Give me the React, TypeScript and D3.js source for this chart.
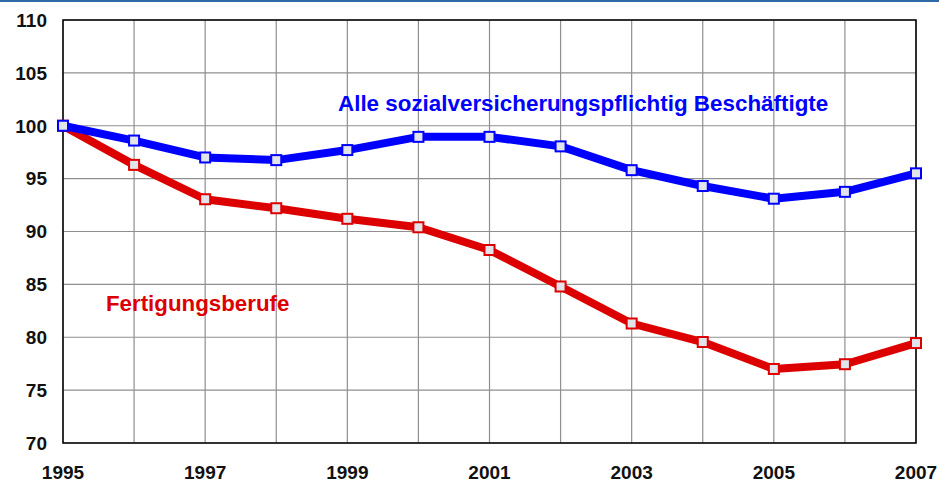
import React, { useEffect, useRef } from 'react';
import * as d3 from 'd3';

const years = [1995, 1996, 1997, 1998, 1999, 2000, 2001, 2002, 2003, 2004, 2005, 2006, 2007];
const allEmployed = [100, 98.6, 97.0, 96.75, 97.7, 98.95, 98.95, 98.05, 95.8, 94.3, 93.1, 93.75, 95.5];
const manufacturing = [100, 96.3, 93.05, 92.2, 91.2, 90.4, 88.25, 84.8, 81.3, 79.55, 77.0, 77.45, 79.45];
const yTicks = [70, 75, 80, 85, 90, 95, 100, 105, 110];
const xLabels = [1995, 1997, 1999, 2001, 2003, 2005, 2007];

export default function App() {
  const ref = useRef<SVGSVGElement>(null);

  useEffect(() => {
    if (!ref.current) return;
    const width = 939;
    const height = 482;
    const m = { left: 63, right: 916, top: 20, bottom: 443 };

    const svg = d3.select(ref.current);
    svg.selectAll('*').remove();

    svg.append('rect').attr('width', width).attr('height', height).attr('fill', '#fff');
    // thin banner line at very top
    svg.append('line')
      .attr('x1', 0).attr('x2', width).attr('y1', 1).attr('y2', 1)
      .attr('stroke', '#2f6aa6').attr('stroke-width', 2);

    const x = d3.scaleLinear().domain([1995, 2007]).range([m.left, m.right]);
    const y = d3.scaleLinear().domain([70, 110]).range([m.bottom, m.top]);

    // grid
    const grid = svg.append('g').attr('stroke', '#8f8f8f').attr('stroke-width', 1.2);
    years.forEach(yr => {
      grid.append('line')
        .attr('x1', x(yr)).attr('x2', x(yr))
        .attr('y1', m.top).attr('y2', m.bottom);
    });
    yTicks.forEach(t => {
      grid.append('line')
        .attr('x1', m.left).attr('x2', m.right)
        .attr('y1', y(t)).attr('y2', y(t));
    });

    // frame
    svg.append('rect')
      .attr('x', m.left).attr('y', m.top)
      .attr('width', m.right - m.left).attr('height', m.bottom - m.top)
      .attr('fill', 'none').attr('stroke', '#000').attr('stroke-width', 1.5);

    const font = 'Arial, "Liberation Sans", Helvetica, sans-serif';

    // y labels
    svg.append('g').selectAll('text').data(yTicks).join('text')
      .attr('x', 47).attr('y', d => y(d))
      .attr('dy', '0.36em')
      .attr('text-anchor', 'end')
      .attr('font-family', font).attr('font-weight', 'bold').attr('font-size', 19)
      .attr('fill', '#111')
      .text(d => d);

    // x labels
    svg.append('g').selectAll('text').data(xLabels).join('text')
      .attr('x', d => x(d)).attr('y', 479)
      .attr('text-anchor', 'middle')
      .attr('font-family', font).attr('font-weight', 'bold').attr('font-size', 19)
      .attr('fill', '#111')
      .text(d => d);

    const line = d3.line<number>()
      .x((_, i) => x(years[i]))
      .y(d => y(d));

    const drawSeries = (vals: number[], color: string) => {
      svg.append('path')
        .datum(vals)
        .attr('d', line)
        .attr('fill', 'none')
        .attr('stroke', color)
        .attr('stroke-width', 8)
        .attr('stroke-linejoin', 'round');
      svg.append('g').selectAll('rect').data(vals).join('rect')
        .attr('x', (_, i) => x(years[i]) - 5)
        .attr('y', d => y(d) - 5)
        .attr('width', 10).attr('height', 10)
        .attr('fill', '#e1e4ea')
        .attr('stroke', color).attr('stroke-width', 2);
    };

    drawSeries(manufacturing, '#dd0000');
    drawSeries(allEmployed, '#0000ff');

    svg.append('text')
      .attr('x', 338).attr('y', 111)
      .attr('font-family', font).attr('font-weight', 'bold').attr('font-size', 22.4)
      .attr('fill', '#0000ff')
      .text('Alle sozialversicherungspflichtig Beschäftigte');

    svg.append('text')
      .attr('x', 106).attr('y', 311)
      .attr('font-family', font).attr('font-weight', 'bold').attr('font-size', 22.3)
      .attr('fill', '#dd0000')
      .text('Fertigungsberufe');
  }, []);

  return (
    <div style={{ position: 'fixed', left: 0, top: 0 }}>
      <svg ref={ref} width={939} height={482} style={{ display: 'block' }} />
    </div>
  );
}
